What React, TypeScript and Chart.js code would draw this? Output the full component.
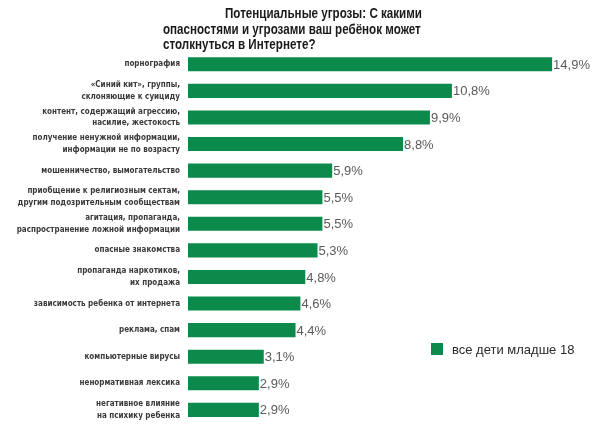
import React, { useEffect, useRef } from "react";
import { Chart, registerables } from "chart.js";

Chart.register(...registerables);

const titleLines = [
  "Потенциальные угрозы: С какими",
  "опасностями и угрозами ваш ребёнок может",
  "столкнуться в Интернете?",
];

const categories: (string | string[])[] = [
  "порнография",
  ["«Синий кит», группы,", "склоняющие к суициду"],
  ["контент, содержащий агрессию,", "насилие, жестокость"],
  ["получение ненужной информации,", "информации не по возрасту"],
  "мошенничество, вымогательство",
  ["приобщение к религиозным сектам,", "другим подозрительным сообществам"],
  ["агитация, пропаганда,", "распространение ложной информации"],
  "опасные знакомства",
  ["пропаганда наркотиков,", "их продажа"],
  "зависимость ребенка от интернета",
  "реклама, спам",
  "компьютерные вирусы",
  "ненормативная лексика",
  ["негативное влияние", "на психику ребенка"],
];

const values = [14.9, 10.8, 9.9, 8.8, 5.9, 5.5, 5.5, 5.3, 4.8, 4.6, 4.4, 3.1, 2.9, 2.9];

const seriesLabel = "все дети младше 18";

const GREEN = "#0b8a4c";

const fmt = (v: number) => v.toFixed(1).replace(".", ",") + "%";

const overlayPlugin = {
  id: "overlay",
  afterDatasetsDraw(chart: any) {
    const ctx = chart.ctx as CanvasRenderingContext2D;
    const meta = chart.getDatasetMeta(0);
    ctx.save();
    // value labels
    ctx.font = '13px "Liberation Sans", Arial, sans-serif';
    ctx.fillStyle = "#5a5a5a";
    ctx.textAlign = "left";
    ctx.textBaseline = "middle";
    meta.data.forEach((bar: any, i: number) => {
      ctx.fillText(fmt(values[i]), bar.x + 1, bar.y + 1);
    });
    // legend
    ctx.fillStyle = GREEN;
    ctx.fillRect(431, 343, 12, 12);
    ctx.font = '13px "Liberation Sans", Arial, sans-serif';
    ctx.fillStyle = "#2a2a2a";
    ctx.textBaseline = "middle";
    ctx.fillText(seriesLabel, 452, 350);
    // title (condensed look via horizontal scaling)
    ctx.font = 'bold 14px "Liberation Sans", Arial, sans-serif';
    ctx.fillStyle = "#1a1a1a";
    ctx.textBaseline = "alphabetic";
    const sx = 0.83;
    ctx.scale(sx, 1);
    ctx.fillText(titleLines[0], 225 / sx, 18);
    ctx.fillText(titleLines[1], 163 / sx, 34);
    ctx.fillText(titleLines[2], 163 / sx, 49);
    ctx.restore();
  },
};

export default function App() {
  const ref = useRef<HTMLCanvasElement | null>(null);
  useEffect(() => {
    if (!ref.current) return;
    const chart = new Chart(ref.current, {
      type: "bar",
      data: {
        labels: categories,
        datasets: [
          {
            label: seriesLabel,
            data: values,
            backgroundColor: GREEN,
            borderWidth: 0,
            categoryPercentage: 1,
            barPercentage: 0.53,
          },
        ],
      },
      options: {
        indexAxis: "y",
        animation: false,
        responsive: false,
        devicePixelRatio: 1,
        layout: { padding: { top: 51, right: 21, bottom: 0, left: 0 } },
        plugins: {
          legend: { display: false },
          title: { display: false },
          tooltip: { enabled: false },
        },
        scales: {
          x: {
            display: false,
            min: 0,
            max: 16,
          },
          y: {
            grid: { display: false, drawTicks: false },
            border: { display: false },
            afterFit: (scale: any) => {
              scale.width = 188;
            },
            ticks: {
              padding: 8,
              color: "#3a3a3a",
              font: {
                family: '"DejaVu Sans Condensed", "Liberation Sans", Arial, sans-serif',
                size: 8,
                weight: "bold",
                lineHeight: 1.45,
              },
            },
          },
        },
      },
      plugins: [overlayPlugin],
    });
    return () => chart.destroy();
  }, []);
  return (
    <div style={{ position: "fixed", left: 0, top: 0, width: 600, height: 437, background: "#fff" }}>
      <canvas ref={ref} width={600} height={437} style={{ width: 600, height: 437 }} />
    </div>
  );
}
